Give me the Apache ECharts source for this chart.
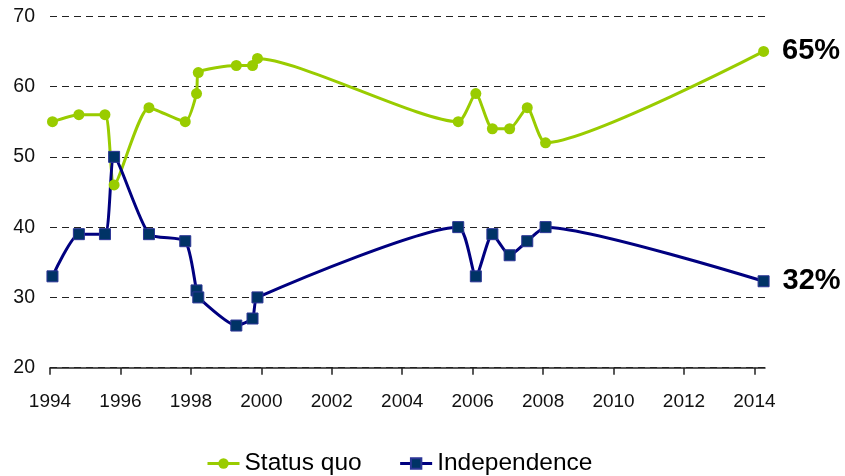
<!DOCTYPE html>
<html>
<head>
<meta charset="utf-8">
<script src="https://cdn.jsdelivr.net/npm/echarts@6/dist/echarts.min.js"></script>
<style>
  html, body { margin: 0; padding: 0; background: #fff; }
  #chart { width: 845px; height: 476px; }
</style>
</head>
<body>
<div id="chart"></div>
<script>
// survey dates (decimal years) and shares in %
const surveyDates = [1994.07, 1994.82, 1995.56, 1995.82, 1996.81, 1997.84, 1998.16, 1998.21, 1999.29, 1999.75, 1999.89, 2005.59, 2006.09, 2006.56, 2007.05, 2007.55, 2008.07, 2014.26]
const statusQuo = [55, 56, 56, 46, 57, 55, 59, 62, 63, 63, 64, 55, 59, 54, 54, 57, 52, 65]
const independence = [33, 39, 39, 50, 39, 38, 31, 30, 26, 27, 30, 40, 33, 39, 36, 38, 40, 32.3]
const yearTicks = [1994, 1996, 1998, 2000, 2002, 2004, 2006, 2008, 2010, 2012, 2014]

const font = '"Liberation Sans", Arial, sans-serif'

function buildData(values) {
  const last = values.length - 1
  return values.map((v, i) => {
    if (i != last) return [surveyDates[i], v]
    return {
      value: [surveyDates[i], v],
      label: {
        show: true,
        position: 'right',
        distance: 13,
        formatter: Math.round(v) + '%',
        fontFamily: font,
        fontSize: 29,
        fontWeight: 'bold',
        color: '#000'
      }
    }
  })
}

const myChart = echarts.init(document.getElementById('chart'))

const option = {
  animation: false,
  grid: {
    left: 50,
    right: 80,
    top: 16.3,
    bottom: 108.3,
    containLabel: false,
    outerBoundsMode: 'none'
  },
  legend: {
    left: 201,
    top: 446,
    itemWidth: 32,
    itemHeight: 13,
    itemGap: 37,
    lineStyle: { width: 3 },
    textStyle: {
      fontFamily: font,
      fontSize: 24.5,
      color: '#000'
    },
    data: ['Status quo', 'Independence']
  },
  xAxis: {
    type: 'value',
    min: 1994,
    max: 2014.3,
    splitLine: { show: false },
    axisLine: {
      lineStyle: { color: '#222', width: 1.5 }
    },
    axisTick: {
      customValues: yearTicks,
      length: 7,
      lineStyle: { color: '#222', width: 1.5 }
    },
    axisLabel: {
      customValues: yearTicks,
      margin: 25,
      fontFamily: font,
      fontSize: 19,
      color: '#111',
      formatter: (v) => String(Math.round(v))
    }
  },
  yAxis: {
    type: 'value',
    min: 20,
    max: 70,
    interval: 10,
    axisLine: { show: false },
    axisTick: { show: false },
    axisLabel: {
      margin: 15,
      fontFamily: font,
      fontSize: 19.5,
      color: '#111'
    },
    splitLine: {
      lineStyle: {
        type: [7, 5],
        color: '#222',
        width: 1
      }
    }
  },
  series: [
    {
      name: 'Status quo',
      type: 'line',
      smooth: 0.2,
      data: buildData(statusQuo),
      symbol: 'circle',
      symbolSize: 11,
      lineStyle: { color: '#99cc00', width: 3 },
      itemStyle: { color: '#99cc00' }
    },
    {
      name: 'Independence',
      type: 'line',
      smooth: 0.2,
      data: buildData(independence),
      symbol: 'rect',
      symbolSize: 11,
      lineStyle: { color: '#000080', width: 3 },
      itemStyle: { color: '#003366', borderColor: '#2b3596', borderWidth: 1 }
    }
  ]
}

myChart.setOption(option)
</script>
</body>
</html>
